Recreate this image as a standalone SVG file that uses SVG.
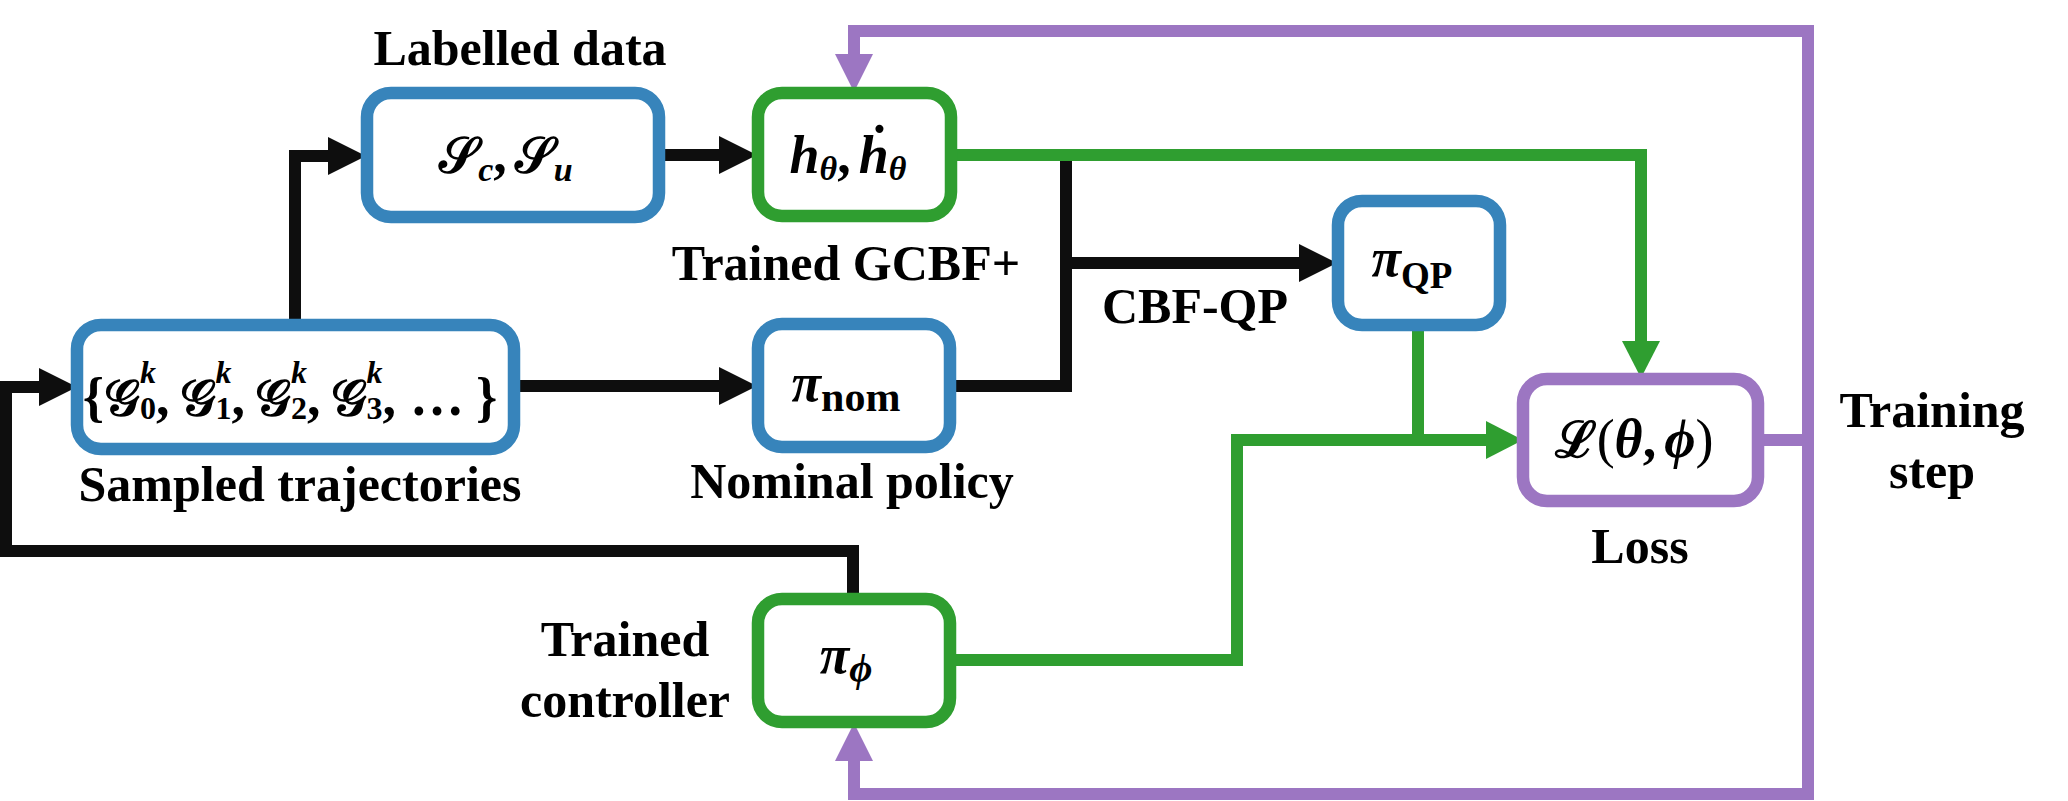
<svg xmlns="http://www.w3.org/2000/svg" width="2068" height="801" viewBox="0 0 2068 801">
<style>
.bg{fill:#ffffff}
.box{fill:#ffffff;stroke-width:12.5}
.blue{stroke:#3784BB}
.green{stroke:#2F9E30}
.purple{stroke:#9C76C2}
.lbl{font-family:"Liberation Serif","Times New Roman",serif;font-weight:bold;font-size:50px;text-anchor:middle;fill:#000}
.m{font-family:"Liberation Serif","DejaVu Serif",serif;font-weight:bold;font-style:italic;font-size:54px;text-anchor:middle;fill:#000}
.scr{font-family:"DejaVu Serif","Liberation Serif",serif;font-weight:bold;font-style:normal;font-size:50px}
.sub{font-size:34px}
.sup{font-size:32px}
.rm{font-family:"Liberation Serif","DejaVu Serif",serif;font-weight:bold;font-style:normal}
.par{font-weight:normal;font-style:normal;font-size:54px}
.ck{fill:none;stroke:#0E0E0E;stroke-width:12;stroke-linejoin:miter}
.cg{fill:none;stroke:#2F9E30;stroke-width:12;stroke-linejoin:miter}
.cp{fill:none;stroke:#9C76C2;stroke-width:12;stroke-linejoin:miter}
</style>
<defs>
<marker id="ak" markerUnits="userSpaceOnUse" markerWidth="40" markerHeight="40" refX="0" refY="19" orient="auto" overflow="visible"><path d="M0,0 L38,19 L0,38 Z" fill="#0E0E0E"/></marker>
<marker id="ag" markerUnits="userSpaceOnUse" markerWidth="40" markerHeight="40" refX="0" refY="19" orient="auto" overflow="visible"><path d="M0,0 L37,19 L0,38 Z" fill="#2F9E30"/></marker>
<marker id="ap" markerUnits="userSpaceOnUse" markerWidth="40" markerHeight="40" refX="0" refY="19" orient="auto" overflow="visible"><path d="M0,0 L38,19 L0,38 Z" fill="#9C76C2"/></marker>
</defs>
<rect class="bg" x="0" y="0" width="2068" height="801"/>

<g id="connectors">
  <path class="ck" d="M295 319 V156 H328" marker-end="url(#ak)"/>
  <path class="ck" d="M659 155 H719" marker-end="url(#ak)"/>
  <path class="ck" d="M518 386 H719" marker-end="url(#ak)"/>
  <path class="ck" d="M956 386 H1066 V155"/>
  <path class="ck" d="M1066 263 H1299" marker-end="url(#ak)"/>
  <path class="ck" d="M853 599 V551 H6 V387 H39" marker-end="url(#ak)"/>
  <path class="cg" d="M957 155 H1641 V341" marker-end="url(#ag)"/>
  <path class="cg" d="M1418 331 V440"/>
  <path class="cg" d="M956 660 H1237 V440 H1486" marker-end="url(#ag)"/>
  <path class="cp" d="M1764 440 H1808"/>
  <path class="cp" d="M1808 440 V31 H854 V54" marker-end="url(#ap)"/>
  <path class="cp" d="M1808 440 V794 H854 V761" marker-end="url(#ap)"/>
</g>

<g id="labelled-data">
  <rect class="box blue" x="367" y="93" width="292" height="124" rx="24"/>
  <text class="m" x="506" y="172"><tspan class="scr">𝒮</tspan><tspan class="sub" dy="9">c</tspan><tspan class="rm" dy="-9">,</tspan><tspan class="scr" dx="8">𝒮</tspan><tspan class="sub" dy="9">u</tspan></text>
  <text class="lbl" x="520" y="65">Labelled data</text>
</g>

<g id="gcbf">
  <rect class="box green" x="758" y="93" width="193" height="123" rx="24"/>
  <text class="m" x="848" y="173">h<tspan class="sub" dy="7">θ</tspan><tspan class="rm" dy="-7">,</tspan><tspan dx="8">ḣ</tspan><tspan class="sub" dy="7">θ</tspan></text>
  <text class="lbl" x="846" y="280">Trained GCBF+</text>
</g>

<g id="trajectories">
  <rect class="box blue" x="77" y="325" width="437" height="124" rx="24"/>
  <text class="m" x="290" y="415"><tspan class="rm">{</tspan><tspan class="scr">𝒢</tspan><tspan class="sup" dy="-32">k</tspan><tspan class="sup rm" dx="-16" dy="36">0</tspan><tspan class="rm" dy="-4">,</tspan><tspan class="scr" dx="10">𝒢</tspan><tspan class="sup" dy="-32">k</tspan><tspan class="sup rm" dx="-16" dy="36">1</tspan><tspan class="rm" dy="-4">,</tspan><tspan class="scr" dx="10">𝒢</tspan><tspan class="sup" dy="-32">k</tspan><tspan class="sup rm" dx="-16" dy="36">2</tspan><tspan class="rm" dy="-4">,</tspan><tspan class="scr" dx="10">𝒢</tspan><tspan class="sup" dy="-32">k</tspan><tspan class="sup rm" dx="-16" dy="36">3</tspan><tspan class="rm" dy="-4">,</tspan><tspan class="rm" dx="14">…</tspan><tspan class="rm" dx="12">}</tspan></text>
  <text class="lbl" x="300" y="501">Sampled trajectories</text>
</g>

<g id="nominal">
  <rect class="box blue" x="758" y="324" width="192" height="123" rx="24"/>
  <text class="m" x="846" y="401">π<tspan class="rm" font-size="42" dy="10">nom</tspan></text>
  <text class="lbl" x="852" y="498">Nominal policy</text>
</g>

<g id="qp">
  <rect class="box blue" x="1338" y="201" width="162" height="124" rx="24"/>
  <text class="m" x="1412" y="276">π<tspan class="rm" font-size="37" dy="12">QP</tspan></text>
  <text class="lbl" x="1195" y="323">CBF-QP</text>
</g>

<g id="loss">
  <rect class="box purple" x="1523" y="379" width="235" height="122" rx="24"/>
  <text class="m" x="1634" y="457"><tspan class="scr">ℒ</tspan><tspan class="par rm">(</tspan>θ<tspan class="rm">,</tspan><tspan dx="8">ϕ</tspan><tspan class="par rm">)</tspan></text>
  <text class="lbl" x="1640" y="563">Loss</text>
</g>

<g id="training-step">
  <text class="lbl" x="1932" y="427">Training</text>
  <text class="lbl" x="1932" y="488">step</text>
</g>

<g id="controller">
  <rect class="box green" x="758" y="599" width="192" height="123" rx="24"/>
  <text class="m" x="846" y="673">π<tspan font-size="40" dy="8">ϕ</tspan></text>
  <text class="lbl" x="625" y="656">Trained</text>
  <text class="lbl" x="625" y="717">controller</text>
</g>
</svg>
